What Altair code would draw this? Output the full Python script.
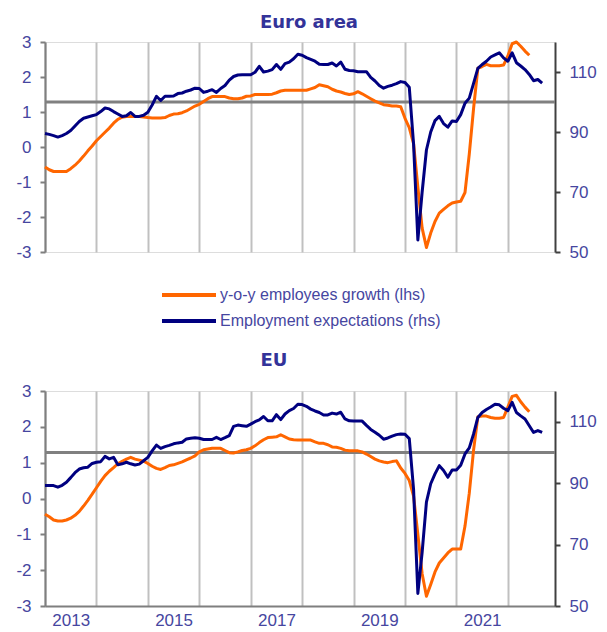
import altair as alt
import pandas as pd

START_YEAR = 2013
N_MONTHS = 120
ORANGE_NAME = "y-o-y employees  growth (lhs)"
BLUE_NAME = "Employment expectations (rhs)"
ORANGE = "#FF6600"
NAVY = "#000080"

# Euro area: y-o-y employees growth (lhs), monthly from Jan 2013
ea_growth = [
    -0.57, -0.65, -0.70, -0.70, -0.70, -0.70, -0.62, -0.52, -0.40, -0.26, -0.11, 0.03,
    0.18, 0.30, 0.42, 0.54, 0.68, 0.79, 0.85, 0.87, 0.87, 0.87, 0.87, 0.86,
    0.84, 0.83, 0.83, 0.83, 0.84, 0.90, 0.94, 0.95, 0.98, 1.03, 1.10, 1.17,
    1.22, 1.30, 1.38, 1.44, 1.44, 1.44, 1.44, 1.40, 1.38, 1.38, 1.40, 1.45,
    1.46, 1.50, 1.50, 1.50, 1.50, 1.51, 1.55, 1.60, 1.62, 1.62, 1.62, 1.62,
    1.62, 1.62, 1.66, 1.70, 1.78, 1.75, 1.72, 1.65, 1.60, 1.57, 1.53, 1.50,
    1.52, 1.58, 1.52, 1.45, 1.38, 1.31, 1.26, 1.21, 1.19, 1.17, 1.17, 1.15,
    0.82, 0.55, 0.10, -1.15, -2.32, -2.87, -2.46, -2.13, -1.89, -1.78, -1.68, -1.60,
    -1.57, -1.55, -1.30, -0.20, 1.10, 2.25, 2.30, 2.36, 2.32, 2.32, 2.32, 2.34,
    2.60, 2.95, 3.00, 2.88, 2.74, 2.62,
]

# Euro area: employment expectations indicator (rhs), monthly from Jan 2013
ea_expect = [
    89.5, 89.2, 88.8, 88.3, 88.8, 89.5, 90.5, 92.0, 93.5, 94.6, 95.0, 95.4,
    95.8, 96.8, 98.0, 97.7, 96.8, 96.0, 95.2, 95.4, 96.5, 95.2, 95.2, 95.6,
    96.6, 99.0, 101.9, 100.5, 101.9, 101.9, 102.0, 102.8, 103.0, 103.6, 104.0, 104.6,
    104.5, 103.2, 103.6, 104.1, 103.2, 104.5, 105.5, 107.3, 108.5, 109.0, 109.1, 109.1,
    109.1, 109.9, 111.9, 110.0, 110.3, 110.8, 112.5, 110.9, 112.8, 113.3, 114.4, 115.9,
    115.6, 114.8, 114.2, 113.6, 112.6, 112.5, 112.5, 113.0, 112.0, 113.3, 110.9, 110.5,
    110.4, 110.1, 110.1, 110.1, 108.2, 107.0, 105.5, 104.6, 105.2, 105.6, 106.1, 106.8,
    106.5, 104.9, 86.0, 54.0, 70.0, 84.0, 90.0, 93.8, 95.2, 92.8, 91.6, 93.7,
    93.5, 95.8, 99.6, 101.3, 106.2, 111.2, 112.5, 113.6, 115.0, 115.7, 116.4, 114.7,
    113.6, 116.4, 113.1, 112.0, 110.8, 109.2, 107.1, 107.5, 106.3,
]

# EU: y-o-y employees growth (lhs), monthly from Jan 2013
eu_growth = [
    -0.44, -0.51, -0.60, -0.63, -0.63, -0.60, -0.55, -0.47, -0.36, -0.21, -0.05, 0.12,
    0.30, 0.48, 0.64, 0.76, 0.86, 0.97, 1.04, 1.10, 1.15, 1.10, 1.07, 1.04,
    0.98, 0.90, 0.84, 0.81, 0.86, 0.92, 0.94, 0.98, 1.02, 1.08, 1.13, 1.19,
    1.30, 1.36, 1.38, 1.40, 1.40, 1.40, 1.34, 1.28, 1.27, 1.30, 1.34, 1.36,
    1.40, 1.47, 1.56, 1.64, 1.70, 1.71, 1.72, 1.78, 1.72, 1.66, 1.64, 1.63,
    1.63, 1.63, 1.63, 1.58, 1.54, 1.54, 1.50, 1.44, 1.43, 1.40, 1.35, 1.33,
    1.33, 1.33, 1.30, 1.24, 1.17, 1.10, 1.05, 1.02, 1.00, 1.03, 1.05, 0.85,
    0.70, 0.50, 0.07, -1.00, -2.10, -2.73, -2.40, -2.05, -1.80, -1.66, -1.52, -1.41,
    -1.41, -1.41, -0.77, 0.15, 1.35, 2.28, 2.30, 2.30, 2.26, 2.24, 2.24, 2.26,
    2.55, 2.85, 2.88, 2.70, 2.55, 2.42,
]

# EU: employment expectations indicator (rhs), monthly from Jan 2013
eu_expect = [
    89.2, 89.2, 89.2, 88.7, 89.3, 90.3, 91.8, 93.4, 94.6, 95.0, 95.2, 96.4,
    96.8, 97.0, 98.7, 97.9, 98.4, 96.0, 96.3, 96.8, 96.3, 95.9, 96.2, 97.3,
    98.4, 100.5, 102.4, 101.3, 101.9, 102.3, 102.8, 103.1, 103.3, 104.4, 104.6, 104.8,
    104.6, 104.2, 104.2, 104.2, 104.9, 104.2, 104.8, 105.5, 108.5, 108.9, 108.7, 108.5,
    109.2, 110.0, 110.6, 111.7, 110.3, 110.3, 112.3, 110.7, 112.5, 113.6, 114.3, 115.7,
    115.6, 115.0, 114.1, 113.5, 113.0, 112.2, 112.2, 112.8, 112.5, 113.1, 110.9, 110.3,
    110.2, 110.2, 110.2, 108.8, 107.5, 106.6, 105.6, 104.3, 104.7, 105.3, 105.8, 106.0,
    105.9, 104.5, 88.0, 54.1, 67.5, 83.8, 89.8, 93.0, 95.7, 94.1, 91.9, 94.3,
    94.3, 95.8, 99.5, 101.5, 106.0, 111.4, 113.0, 114.0, 114.8, 115.7, 115.5, 114.4,
    113.6, 116.3, 113.0, 111.9, 110.9, 108.7, 106.5, 107.1, 106.5,
]

LHS_TICKS = [-3, -2, -1, 0, 1, 2, 3]
LHS_DOMAIN = [-3, 3]
RHS_TICKS = [50, 70, 90, 110]
RHS_DOMAIN = [50, 120]
RHS_REFERENCE = [100]
YEARS = list(range(2013, 2023))
X_DOMAIN = [START_YEAR, START_YEAR + (N_MONTHS - 1) / 12]

PLOT_W = 510
LABEL_FONT = "Liberation Sans"
LABEL_COLOR = "#4646A0"
AXIS_GRAY = "#7F7F7F"


def to_frame(values, name):
    return pd.DataFrame({
        "t": [START_YEAR + i / 12 for i in range(len(values))],
        "v": values,
        "series": name,
    })


legend_def = alt.Legend(
    title=None, orient="none", legendX=132, legendY=241, direction="vertical",
    symbolType="M-2.7,0H2.7", symbolSize=400, symbolStrokeWidth=4,
    labelFont=LABEL_FONT, labelFontSize=16, labelColor=LABEL_COLOR,
    labelOffset=19, rowPadding=6, labelLimit=400,
)
color_enc = alt.Color(
    "series:N",
    scale=alt.Scale(domain=[ORANGE_NAME, BLUE_NAME], range=[ORANGE, NAVY]),
    legend=legend_def,
)


def panel(title, growth, expect, show_labels, height, title_offset, title_dx):
    x_axis = alt.Axis(
        values=YEARS, grid=True, gridColor="#C0C0C0", gridWidth=2,
        ticks=False, tickSize=0, domain=show_labels, domainColor=AXIS_GRAY,
        domainWidth=2, labels=show_labels,
        labelExpr="datum.value % 2 == 1 ? format(datum.value, 'd') : ''",
        labelOffset=PLOT_W / (N_MONTHS - 1) * 6, labelFlush=False,
        labelOverlap=False, labelPadding=6, labelFont=LABEL_FONT,
        labelFontSize=17, labelColor=LABEL_COLOR, title=None,
    )
    x = alt.X("t:Q", scale=alt.Scale(domain=X_DOMAIN, nice=False, zero=False), axis=x_axis)

    left_axis = alt.Axis(
        orient="left", values=LHS_TICKS, grid=False, title=None,
        labelExpr="'' + datum.value",
        domainColor=AXIS_GRAY, domainWidth=2, tickColor=AXIS_GRAY, tickWidth=2,
        tickSize=5, labelPadding=9, labelFont=LABEL_FONT, labelFontSize=17,
        labelColor=LABEL_COLOR,
    )
    right_axis = alt.Axis(
        orient="right", values=RHS_TICKS, grid=False, title=None,
        domainColor="#404040", domainWidth=2, tickColor="#404040", tickWidth=2,
        tickSize=5, labelPadding=9, labelFont=LABEL_FONT, labelFontSize=17,
        labelColor=LABEL_COLOR,
    )

    ref = alt.Chart(pd.DataFrame({"v": RHS_REFERENCE})).mark_rule(
        color="#808080", strokeWidth=3
    ).encode(
        y=alt.Y("v:Q", scale=alt.Scale(domain=RHS_DOMAIN, nice=False, zero=False), axis=None)
    )
    orange = alt.Chart(to_frame(growth, ORANGE_NAME)).mark_line(
        strokeWidth=3, strokeJoin="round"
    ).encode(
        x=x,
        y=alt.Y("v:Q", scale=alt.Scale(domain=LHS_DOMAIN, nice=False, zero=False), axis=left_axis),
        color=color_enc,
    )
    blue = alt.Chart(to_frame(expect, BLUE_NAME)).mark_line(
        strokeWidth=3, strokeJoin="round"
    ).encode(
        x=x,
        y=alt.Y("v:Q", scale=alt.Scale(domain=RHS_DOMAIN, nice=False, zero=False), axis=right_axis),
        color=color_enc,
    )
    return alt.layer(ref, orange, blue).resolve_scale(y="independent").properties(
        width=PLOT_W, height=height,
        title=alt.TitleParams(
            text=title, font="DejaVu Sans", fontSize=18, fontWeight="bold",
            color="#333399", offset=title_offset, dx=title_dx, anchor="middle",
            frame="group",
        ),
    )


top = panel("Euro area", ea_growth, ea_expect, False, 210, 1, 9)
bottom = panel("EU", eu_growth, eu_expect, True, 215, 12, -26)

chart = alt.vconcat(top, bottom, spacing=90).properties(
    padding={"left": 7, "top": 5, "right": 0, "bottom": 0}
).configure_view(stroke=None).configure(font=LABEL_FONT)

chart.save("out.html", embed_options={"renderer": "svg", "actions": False})
